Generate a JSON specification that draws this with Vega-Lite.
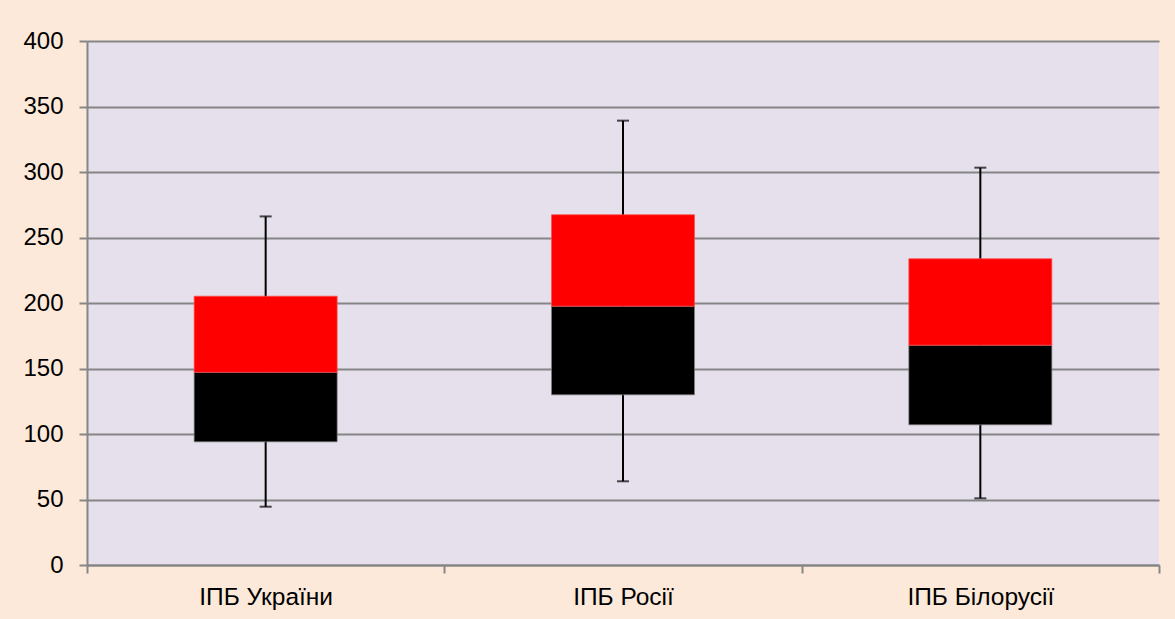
{
  "$schema": "https://vega.github.io/schema/vega-lite/v6.json",
  "autosize": "none",
  "width": 1072,
  "height": 524,
  "padding": {"left": 87, "top": 41, "right": 16, "bottom": 54},
  "background": "#FDE9D9",
  "config": {
    "font": "Liberation Sans",
    "view": {"fill": "#E5E0EC", "stroke": null}
  },
  "data": {
    "values": [
      {"cat": "ІПБ України", "min": 44.5, "q1": 94.0, "median": 147.1, "q3": 205.2, "max": 266.1},
      {"cat": "ІПБ Росії", "min": 63.9, "q1": 129.9, "median": 197.6, "q3": 267.4, "max": 339.2},
      {"cat": "ІПБ Білорусії", "min": 50.9, "q1": 107.0, "median": 167.8, "q3": 233.8, "max": 303.3}
    ]
  },
  "encoding": {
    "x": {
      "field": "cat", "type": "nominal", "sort": null,
      "scale": {"paddingInner": 0, "paddingOuter": 0},
      "axis": {
        "title": null, "labelAngle": 0, "labelFontSize": 24.5, "labelColor": "#000000",
        "labelPadding": 12, "tickSize": 8, "tickBand": "extent",
        "domainColor": "#868686", "tickColor": "#868686", "domainWidth": 2, "tickWidth": 2
      }
    }
  },
  "layer": [
    {
      "mark": {"type": "rule", "color": "#000000", "strokeWidth": 2},
      "encoding": {
        "y": {
          "field": "min", "type": "quantitative",
          "scale": {"domain": [0, 400], "nice": false},
          "axis": {
            "title": null, "values": [0, 50, 100, 150, 200, 250, 300, 350, 400],
            "labelFontSize": 24, "labelColor": "#000000", "labelPadding": 16, "tickSize": 8,
            "grid": true, "gridColor": "#868686", "gridWidth": 2,
            "domainColor": "#868686", "tickColor": "#868686", "domainWidth": 2, "tickWidth": 2
          }
        },
        "y2": {"field": "max"}
      }
    },
    {
      "mark": {"type": "tick", "color": "#000000", "size": 12, "thickness": 2},
      "encoding": {"y": {"field": "min", "type": "quantitative"}}
    },
    {
      "mark": {"type": "tick", "color": "#000000", "size": 12, "thickness": 2},
      "encoding": {"y": {"field": "max", "type": "quantitative"}}
    },
    {
      "mark": {"type": "bar", "color": "#000000", "size": 143, "stroke": "#7f7f7f", "strokeWidth": 0.7},
      "encoding": {
        "y": {"field": "q1", "type": "quantitative"},
        "y2": {"field": "median"}
      }
    },
    {
      "mark": {"type": "bar", "color": "#FF0000", "size": 143, "stroke": "#FF5050", "strokeWidth": 0.7},
      "encoding": {
        "y": {"field": "median", "type": "quantitative"},
        "y2": {"field": "q3"}
      }
    }
  ]
}
